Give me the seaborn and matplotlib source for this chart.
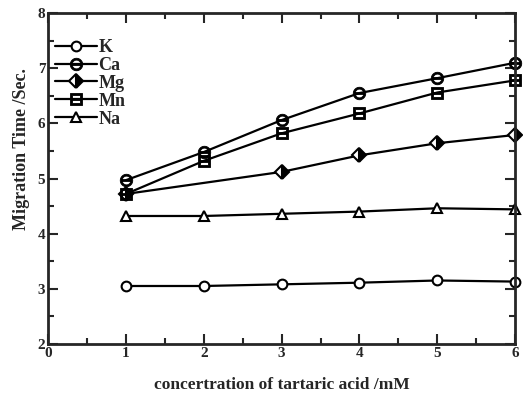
import numpy as np
import pandas as pd
import matplotlib
matplotlib.use("Agg")
import matplotlib.pyplot as plt
import seaborn as sns
from matplotlib.ticker import MultipleLocator

conc = [1, 2, 3, 4, 5, 6]
conc_mg = [1, 3, 4, 5, 6]
k_vals = [3.05, 3.05, 3.08, 3.11, 3.15, 3.13]
ca_vals = [4.97, 5.48, 6.06, 6.55, 6.82, 7.10]
mg_vals = [4.72, 5.12, 5.42, 5.64, 5.79]
mn_vals = [4.72, 5.32, 5.82, 6.18, 6.56, 6.78]
na_vals = [4.32, 4.32, 4.36, 4.40, 4.46, 4.44]

sns.set_style("ticks")
plt.rcParams['font.family'] = ['Liberation Serif', 'DejaVu Serif']
plt.rcParams['font.weight'] = 'bold'

fig = plt.figure(figsize=(5.23, 3.98), dpi=100)
ax = fig.add_axes([0.092, 0.136, 0.893, 0.831])

common = dict(color='black', linewidth=1.6, markersize=7, markeredgewidth=1.5,
              markeredgecolor='black', ax=ax, clip_on=False)
mt = {**common, 'markersize': 9, 'markeredgewidth': 0.6}

sns.lineplot(x=conc, y=k_vals, marker='o', markerfacecolor='white', label='K', **common)
sns.lineplot(x=conc, y=ca_vals, marker=r'$\ominus$', label='Ca', **mt)
sns.lineplot(x=conc_mg, y=mg_vals, marker='D', fillstyle='right',
             markerfacecolor='black', markerfacecoloralt='white', label='Mg', **common)
sns.lineplot(x=conc, y=mn_vals, marker=r'$\boxminus$', label='Mn', **mt)
sns.lineplot(x=conc, y=na_vals, marker='^', markerfacecolor='white', label='Na', **common)

ax.set_xlim(0, 6)
ax.set_ylim(2, 8)
ax.xaxis.set_major_locator(MultipleLocator(1))
ax.xaxis.set_minor_locator(MultipleLocator(0.5))
ax.yaxis.set_major_locator(MultipleLocator(1))
ax.yaxis.set_minor_locator(MultipleLocator(0.5))
ax.tick_params(which='both', direction='in', top=True, right=True, width=1.5)
ax.tick_params(which='major', length=7, labelsize=11, pad=2)
ax.tick_params(which='minor', length=4)
for s in ax.spines.values():
    s.set_linewidth(2)
    s.set_visible(True)

ax.set_xlabel('concertration of tartaric acid /mM', fontsize=12.5, fontweight='bold')
ax.set_ylabel('Migration Time /Sec.', fontsize=13, fontweight='bold')
ax.xaxis.set_label_coords(0.5, -0.1)
ax.yaxis.set_label_coords(-0.038, 0.59)

leg = ax.legend(loc='upper left', bbox_to_anchor=(-0.012, 0.96), frameon=False,
                fontsize=13, handlelength=2.3, handletextpad=0.1,
                labelspacing=0.05, borderaxespad=0.3)

fig.savefig('out.png', dpi=100)
